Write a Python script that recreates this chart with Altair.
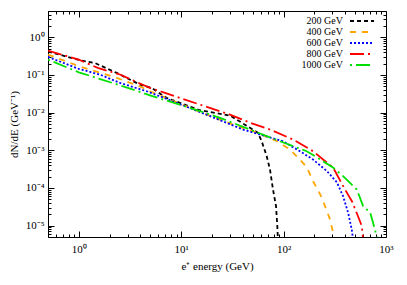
import altair as alt
import pandas as pd

series_labels = ["200 GeV", "400 GeV", "600 GeV", "800 GeV", "1000 GeV"]

energy_200 = [0.5, 1.06, 1.43, 2.34, 3.95, 5.13, 7.2, 15.2, 29.9, 47, 56.2, 61.1, 68.4, 73.6, 78.8, 84.3, 86.8, 88.5]
flux_200 = [0.418, 0.241, 0.209, 0.114, 0.0556, 0.0455, 0.0247, 0.0116, 0.0084, 0.00395, 0.0029, 0.00174, 0.0007, 0.00031, 9.1e-5, 3.3e-5, 9.8e-6, 3e-6]

energy_400 = [0.5, 1.0, 2.34, 3.95, 4.94, 15.2, 32.0, 56.2, 86.2, 115.5, 144.5, 169, 194, 227, 254, 284, 304, 318]
flux_400 = [0.348, 0.172, 0.0838, 0.05, 0.037, 0.0105, 0.00483, 0.0029, 0.00174, 0.00105, 0.00057, 0.00035, 0.000152, 6.9e-5, 3.3e-5, 1.46e-5, 6.6e-6, 3e-6]

energy_600 = [0.5, 1.0, 1.6, 2.52, 4.59, 6.2, 15.2, 40.1, 98.6, 144.5, 194, 265, 332, 381, 426, 463, 485]
flux_600 = [0.302, 0.145, 0.103, 0.0617, 0.037, 0.0272, 0.0104, 0.00356, 0.00174, 0.000946, 0.00057, 0.00028, 0.00014, 6.05e-5, 2.24e-5, 7.9e-6, 3e-6]

energy_800 = [0.5, 1.0, 1.53, 2.52, 4.94, 15.2, 29.9, 47, 73.6, 124, 194, 243, 304, 398, 466, 534, 580, 600]
flux_800 = [0.444, 0.256, 0.154, 0.103, 0.0455, 0.0164, 0.0089, 0.0054, 0.00356, 0.00193, 0.000946, 0.00057, 0.00035, 9.1e-5, 4.4e-5, 1.75e-5, 9.8e-6, 4e-6]

energy_1000 = [0.5, 1.0, 2.71, 5.3, 15.2, 23.9, 47, 92.2, 168, 203, 306, 381, 519, 598, 699, 748, 813, 830]
flux_1000 = [0.256, 0.118, 0.05, 0.0272, 0.011, 0.0073, 0.00356, 0.00174, 0.000946, 0.0007, 0.000343, 0.000206, 9.1e-5, 3.3e-5, 2.24e-5, 1.2e-5, 5e-6, 3e-6]

energies = [energy_200, energy_400, energy_600, energy_800, energy_1000]
fluxes = [flux_200, flux_400, flux_600, flux_800, flux_1000]

rows = []
for lab, es, fs in zip(series_labels, energies, fluxes):
    for e, f in zip(es, fs):
        rows.append({"series": lab, "E": e, "dNdE": f})
df = pd.DataFrame(rows)

colors = ["#000000", "#ffa500", "#0000ff", "#ff0000", "#00e000"]
dashes = [[4, 3], [6, 6], [2, 2], [14, 4, 2, 4], [2, 4, 14, 4]]

x_values = [m * 10.0 ** k for k in range(-1, 3) for m in range(1, 10) if m * 10.0 ** k >= 0.5] + [1000]
y_values = [m * 10.0 ** k for k in range(-6, 1) for m in range(1, 10) if 5e-6 <= m * 10.0 ** k <= 5]

MAJOR = "abs(log(datum.value)/LN10 - round(log(datum.value)/LN10)) < 0.001"
x_label_expr = MAJOR + " ? ['10⁰','10¹','10²','10³'][round(log(datum.value)/LN10)] : ''"
y_label_expr = MAJOR + " ? ['10⁻⁵','10⁻⁴','10⁻³','10⁻²','10⁻¹','10⁰'][round(log(datum.value)/LN10)+5] : ''"

tick_dash = {"condition": {"test": MAJOR, "value": [10, 0]}, "value": [0, 3, 3, 0]}
FONT = "Liberation Serif"


def make_axis(orient, values, show_labels, label_expr, title, label_pad=3, title_pad=4):
    kw = dict(
        orient=orient, values=values, labels=show_labels, domain=False, grid=False,
        ticks=True, tickSize=6, offset=-6, tickDash=tick_dash, tickColor="black",
        tickWidth=1, labelFont=FONT, labelFontSize=11, labelColor="black",
        labelPadding=label_pad, labelFlush=False, labelOverlap=False,
        titleFont=FONT, titleFontSize=11, titleFontWeight="normal", titleColor="black",
        titlePadding=title_pad,
    )
    if show_labels:
        kw["labelExpr"] = label_expr
    kw["title"] = title if title else None
    return alt.Axis(**kw)


xs = alt.Scale(type="log", domain=[0.5, 1000], nice=False)
ys = alt.Scale(type="log", domain=[5e-6, 5], nice=False)

legend = alt.Legend(
    orient="none", legendX=309, legendY=5, title=None, symbolType="M-4,0H4",
    symbolSize=36, symbolStrokeWidth=1.8, rowPadding=1,
    labelFont=FONT, labelFontSize=10, labelColor="black", labelAlign="right",
    labelOffset={"expr": "-24"}, padding=0,
)

lines = alt.Chart(df).mark_line(clip=True, strokeWidth=1.8).encode(
    x=alt.X("E:Q", scale=xs, axis=make_axis("bottom", x_values, True, x_label_expr, "e⁺ energy (GeV)", 6, 6)),
    y=alt.Y("dNdE:Q", scale=ys, axis=make_axis("left", y_values, True, y_label_expr, "dN/dE (GeV⁻¹)", 4, 6)),
    color=alt.Color("series:N", scale=alt.Scale(domain=series_labels, range=colors), legend=legend),
    strokeDash=alt.StrokeDash("series:N", scale=alt.Scale(domain=series_labels, range=dashes), legend=legend),
    order=alt.Order("E:Q"),
)

mirror = alt.Chart(df).mark_point(opacity=0, clip=True).encode(
    x=alt.X("E:Q", scale=xs, axis=make_axis("top", x_values, False, None, None)),
    y=alt.Y("dNdE:Q", scale=ys, axis=make_axis("right", y_values, False, None, None)),
)

chart = alt.layer(lines, mirror).resolve_scale(
    x="independent", y="independent"
).properties(
    width=338, height=226, autosize=alt.AutoSizeParams(type="none"),
    padding={"left": 40, "top": 3, "right": 12, "bottom": 40},
).configure_view(stroke="black", strokeWidth=1)

chart.save("out.html", embed_options={"renderer": "svg", "actions": False})
